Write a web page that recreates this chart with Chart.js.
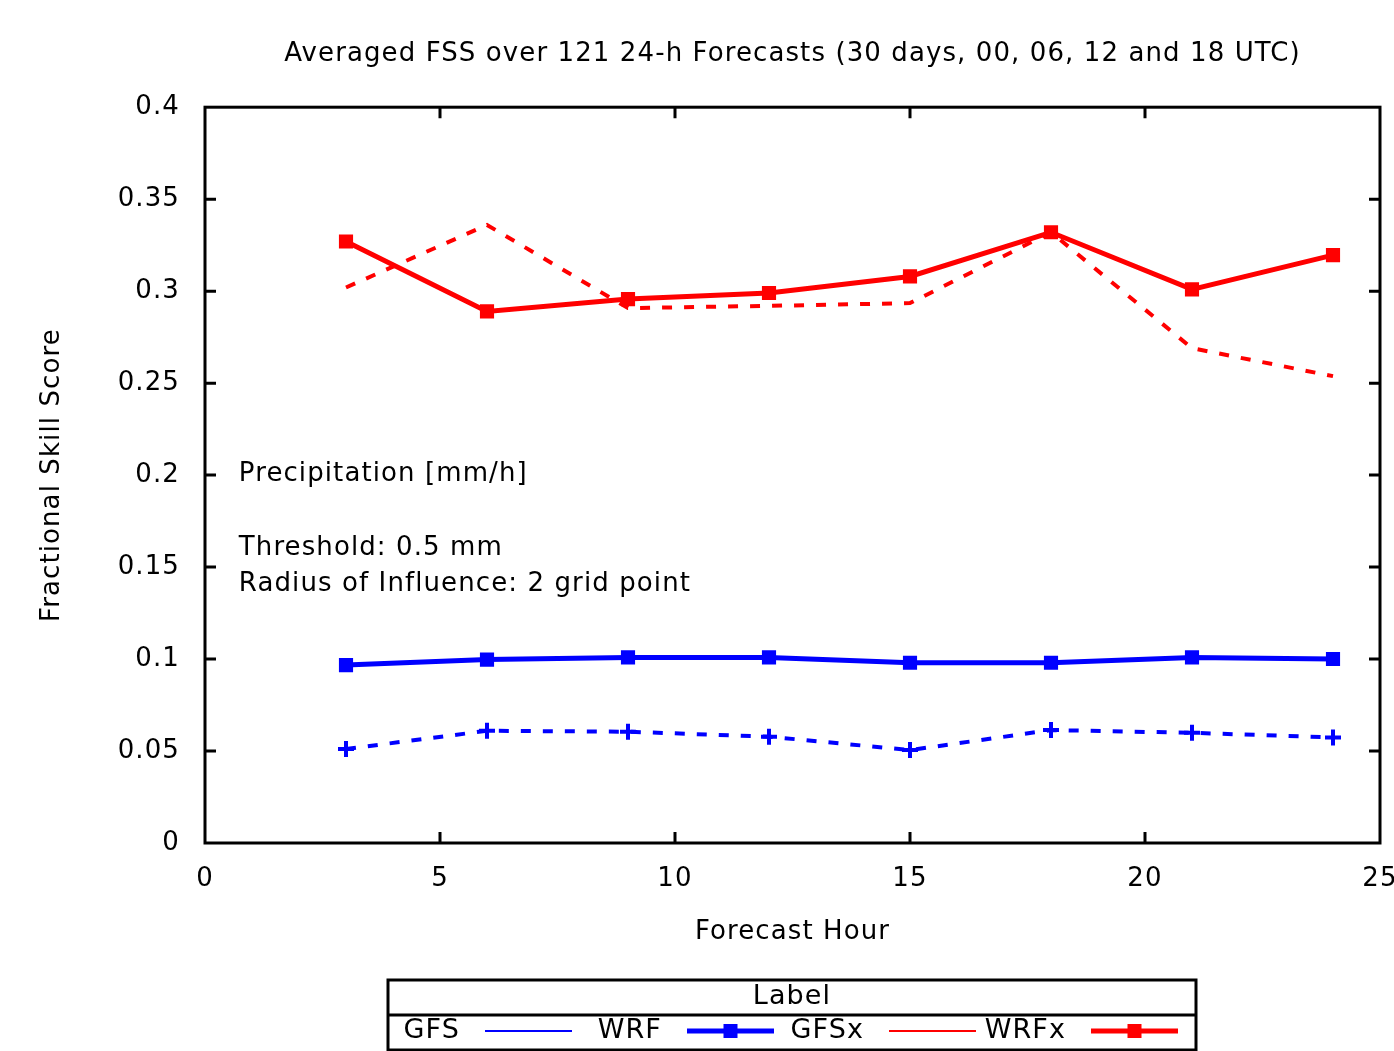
<!DOCTYPE html>
<html>
<head>
<meta charset="utf-8">
<script src="https://cdn.jsdelivr.net/npm/chart.js@4.4.1/dist/chart.umd.min.js"></script>
<style>
  html, body { margin: 0; padding: 0; background: #fff; }
  #wrap { width: 1394px; height: 1051px; }
</style>
</head>
<body>
<div id="wrap"><canvas id="fss" width="1394" height="1051"></canvas></div>
<script>
const hours = [3, 6, 9, 12, 15, 18, 21, 24]
const gfs = [0.0511, 0.061, 0.0605, 0.0578, 0.0505, 0.0614, 0.0599, 0.0574]
const wrf = [0.0967, 0.0997, 0.1009, 0.1009, 0.098, 0.098, 0.1009, 0.1]
const gfsx = [0.302, 0.336, 0.2908, 0.292, 0.2935, 0.332, 0.269, 0.2538]
const wrfx = [0.327, 0.289, 0.2957, 0.299, 0.308, 0.332, 0.301, 0.3196]
const xTicks = [0, 5, 10, 15, 20, 25]
const yTicks = [0, 0.05, 0.1, 0.15, 0.2, 0.25, 0.3, 0.35, 0.4]
const noteLines = ["Precipitation [mm/h]", "Threshold: 0.5 mm", "Radius of Influence: 2 grid point"]
const legendTitle = "Label"

const FONT = "'DejaVu Sans', sans-serif"
const BLUE = "#0000ff"
const RED = "#ff0000"

const toPoints = values => values.map((v, i) => ({ x: hours[i], y: v }))

// gnuplot text is a little spaced out
const spacingPlugin = {
  id: "spacing",
  beforeDraw(chart) {
    chart.ctx.letterSpacing = "1.1px"
  },
}

// gnuplot style: frame, inward ticks on all four sides
const framePlugin = {
  id: "frame",
  beforeDatasetsDraw(chart) {
    const { ctx, chartArea: { left, right, top, bottom }, scales: { x, y } } = chart
    const len = 11
    ctx.save()
    ctx.strokeStyle = "#000"
    ctx.lineWidth = 3
    ctx.strokeRect(left, top, right - left, bottom - top)
    ctx.beginPath()
    xTicks.slice(1, -1).forEach(v => {
      const px = x.getPixelForValue(v)
      ctx.moveTo(px, bottom); ctx.lineTo(px, bottom - len)
      ctx.moveTo(px, top); ctx.lineTo(px, top + len)
    })
    yTicks.slice(1, -1).forEach(v => {
      const py = y.getPixelForValue(v)
      ctx.moveTo(left, py); ctx.lineTo(left + len, py)
      ctx.moveTo(right, py); ctx.lineTo(right - len, py)
    })
    ctx.stroke()
    ctx.restore()
  },
}

const notesPlugin = {
  id: "notes",
  afterDatasetsDraw(chart) {
    const { ctx, scales: { x, y } } = chart
    const at = [0.2005, 0.1605, 0.1405]
    ctx.save()
    ctx.font = `26px ${FONT}`
    ctx.fillStyle = "#000"
    ctx.textAlign = "left"
    ctx.textBaseline = "middle"
    noteLines.forEach((line, i) => ctx.fillText(line, x.getPixelForValue(0.72), y.getPixelForValue(at[i])))
    ctx.restore()
  },
}

// key box below the plot: text first, then the line sample
const keyPlugin = {
  id: "key",
  afterDraw(chart) {
    const { ctx } = chart
    const boxL = 388, boxR = 1196, boxT = 980, sep = 1015, boxB = 1050
    const rowY = 1031
    ctx.save()
    ctx.strokeStyle = "#000"
    ctx.lineWidth = 3
    ctx.strokeRect(boxL, boxT, boxR - boxL, boxB - boxT)
    ctx.beginPath()
    ctx.moveTo(boxL, sep); ctx.lineTo(boxR, sep)
    ctx.stroke()

    ctx.fillStyle = "#000"
    ctx.font = `27px ${FONT}`
    ctx.textAlign = "center"
    ctx.textBaseline = "middle"
    ctx.fillText(legendTitle, (boxL + boxR) / 2, 997)

    chart.data.datasets.forEach((ds, i) => {
      const textRight = 460 + 202 * i
      ctx.fillStyle = "#000"
      ctx.textAlign = "right"
      ctx.fillText(ds.label, textRight, rowY)
      const x0 = textRight + 25, x1 = textRight + 112
      ctx.strokeStyle = ds.borderColor
      ctx.lineWidth = ds.pointStyle === "rect" ? ds.borderWidth : 1.8
      ctx.beginPath()
      ctx.moveTo(x0, rowY); ctx.lineTo(x1, rowY)
      ctx.stroke()
      if (ds.pointStyle === "rect") {
        ctx.fillStyle = ds.borderColor
        ctx.fillRect((x0 + x1) / 2 - 7, rowY - 7, 14, 14)
      }
    })
    ctx.restore()
  },
}

const dashed = (label, values, color, marker) => ({
  label,
  data: toPoints(values),
  borderColor: color,
  backgroundColor: color,
  borderWidth: 4,
  borderDash: [10, 12],
  pointStyle: marker ? "cross" : false,
  pointRadius: marker ? 8 : 0,
  pointBorderWidth: 4,
  pointBorderColor: color,
  tension: 0,
})

const solid = (label, values, color) => ({
  label,
  data: toPoints(values),
  borderColor: color,
  backgroundColor: color,
  borderWidth: 5,
  pointStyle: "rect",
  pointRadius: 10,
  pointBorderWidth: 0,
  pointBackgroundColor: color,
  tension: 0,
})

new Chart(document.getElementById("fss"), {
  type: "line",
  data: {
    datasets: [
      dashed("GFS", gfs, BLUE, true),
      solid("WRF", wrf, BLUE),
      dashed("GFSx", gfsx, RED, false),
      solid("WRFx", wrfx, RED),
    ],
  },
  options: {
    responsive: false,
    animation: false,
    layout: { padding: { left: 0, right: 14, top: 0, bottom: 98 } },
    scales: {
      x: {
        type: "linear",
        min: 0,
        max: 25,
        afterBuildTicks: scale => { scale.ticks = xTicks.map(v => ({ value: v })) },
        afterFit: scale => { scale.height = 110; scale.paddingLeft = 0; scale.paddingRight = 0 },
        grid: { display: false, drawTicks: false },
        border: { display: false },
        ticks: { color: "#000", padding: 21, maxRotation: 0, font: { family: FONT, size: 26 } },
        title: {
          display: true, text: "Forecast Hour", color: "#000",
          font: { family: FONT, size: 26 }, padding: { top: 0, bottom: 5 },
        },
      },
      y: {
        type: "linear",
        min: 0,
        max: 0.4,
        afterBuildTicks: scale => { scale.ticks = yTicks.map(v => ({ value: v })) },
        afterFit: scale => { scale.width = 205; scale.paddingTop = 0; scale.paddingBottom = 0 },
        grid: { display: false, drawTicks: false },
        border: { display: false },
        ticks: {
          color: "#000", padding: 25, font: { family: FONT, size: 26 },
          callback: v => String(parseFloat(v.toFixed(2))),
        },
        title: {
          display: true, text: "Fractional Skill Score", color: "#000",
          font: { family: FONT, size: 26 }, padding: { top: 37, bottom: 0 },
        },
      },
    },
    plugins: {
      legend: { display: false },
      tooltip: { enabled: false },
      title: {
        display: true,
        fullSize: false,
        text: "Averaged FSS over 121 24-h Forecasts (30 days, 00, 06, 12 and 18 UTC)",
        color: "#000",
        font: { family: FONT, size: 26, weight: "normal" },
        padding: { top: 39, bottom: 37 },
      },
    },
  },
  plugins: [spacingPlugin, framePlugin, notesPlugin, keyPlugin],
})
</script>
</body>
</html>
